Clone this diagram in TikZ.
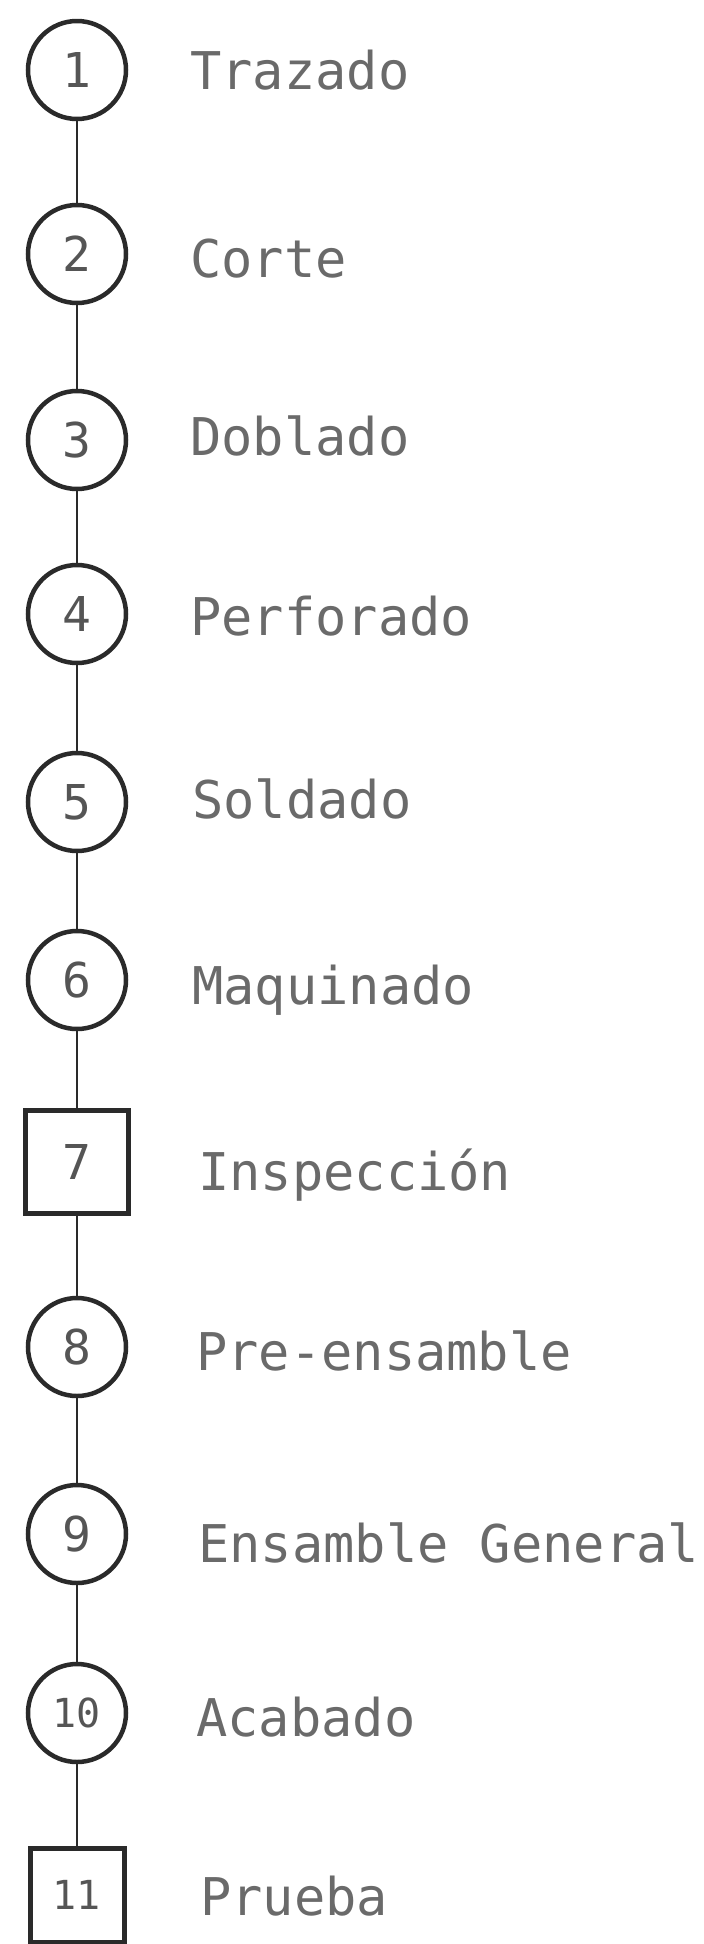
\documentclass[tikz,border=0pt]{standalone}
\usepackage{fontspec}
\setmonofont{DejaVu Sans Mono}
\newcommand\opnumfont{\ttfamily\fontsize{48}{48}\selectfont}
\newcommand\opnumsmall{\ttfamily\fontsize{40}{40}\selectfont}
\newcommand\optextfont{\ttfamily\fontsize{52}{52}\selectfont}
\definecolor{inkdark}{HTML}{2A2A2A}
\definecolor{inkgray}{HTML}{6A6A6A}
\begin{document}
\begin{tikzpicture}[x=1pt,y=-1pt,
  opcircle/.style={draw=inkdark, line width=4.5pt, circle, minimum size=98pt,
    inner sep=0pt, font=\opnumfont, text=inkgray!80!black},
  opbox/.style={draw=inkdark, line width=5pt, rectangle, minimum size=#1,
    inner sep=0pt, font=\opnumfont, text=inkgray!80!black},
  steptext/.style={anchor=base west, inner sep=0pt, font=\optextfont, text=inkgray},
  link/.style={draw=inkdark, line width=2.8pt}]
\useasboundingbox (0,0) rectangle (704,1944);

% operation symbols along the flow line
\node[opcircle] (n1)  at (77,70)   {1};
\node[opcircle] (n2)  at (77,254)  {2};
\node[opcircle] (n3)  at (77,440)  {3};
\node[opcircle] (n4)  at (77,614)  {4};
\node[opcircle] (n5)  at (77,802)  {5};
\node[opcircle] (n6)  at (77,980)  {6};
\node[opbox=103pt] (n7) at (77,1162) {7};
\node[opcircle] (n8)  at (77,1347) {8};
\node[opcircle] (n9)  at (77,1534) {9};
\node[opcircle, font=\opnumsmall] (n10) at (77,1713) {10};
\node[opbox=94pt, font=\opnumsmall] (n11) at (77,1895) {11};

% vertical connectors
\foreach \a/\b in {n1/n2,n2/n3,n3/n4,n4/n5,n5/n6,n6/n7,n7/n8,n8/n9,n9/n10,n10/n11}
  \draw[link] (\a.south) -- (\b.north);

% operation names
\node[steptext] (t1)  at (190,89)   {Trazado};
\node[steptext] (t2)  at (190,277)  {Corte};
\node[steptext] (t3)  at (190,455)  {Doblado};
\node[steptext] (t4)  at (190,635)  {Perforado};
\node[steptext] (t5)  at (192,818)  {Soldado};
\node[steptext] (t6)  at (192,1004) {Maquinado};
\node[steptext] (t7)  at (198,1190) {Inspección};
\node[steptext] (t8)  at (196,1370) {Pre-ensamble};
\node[steptext] (t9)  at (198,1562) {Ensamble General};
\node[steptext] (t10) at (196,1736) {Acabado};
\node[steptext] (t11) at (200,1915) {Prueba};
\end{tikzpicture}
\end{document}
